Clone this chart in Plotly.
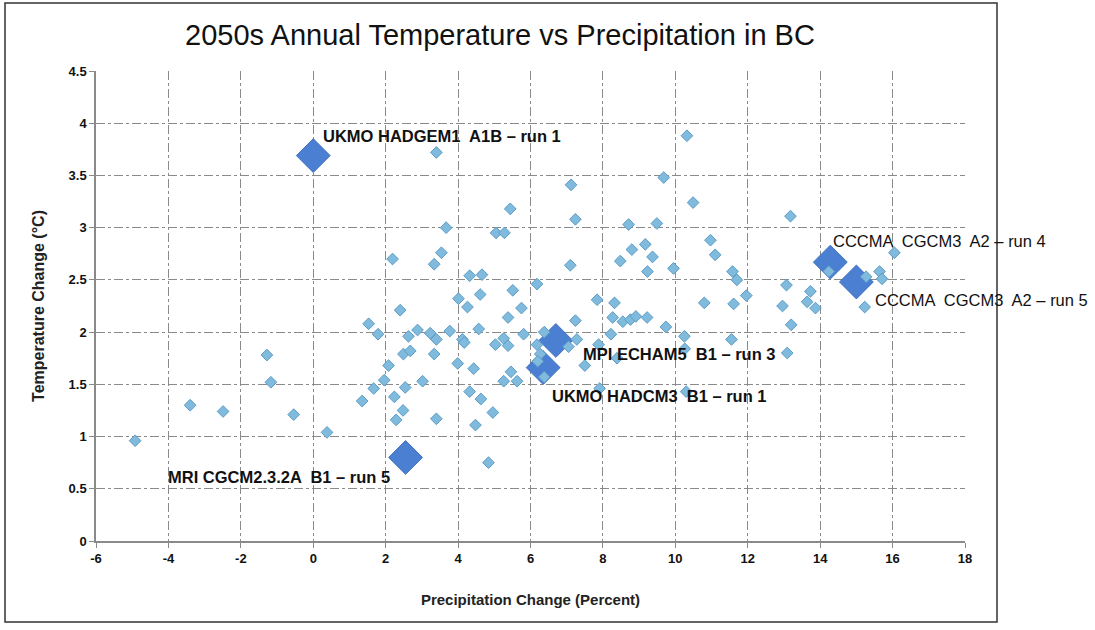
import plotly.graph_objects as go

# ---- data ----
precip_small = [-4.92, -3.40, -2.49, -1.28, -1.17, -0.54, 0.38, 1.35, 1.53, 1.79, 1.67, 1.96, 2.08, 2.24,
                2.29, 2.48, 2.40, 2.63, 2.49, 2.68, 2.54, 2.88, 3.02, 3.23, 3.40, 3.34, 3.40, 5.44, 3.67,
                5.05, 5.28, 2.19, 3.34, 3.54, 4.32, 4.66, 6.18, 4.01, 4.61, 4.26, 5.51, 5.75, 5.38, 3.77,
                4.12, 4.17, 4.57, 5.03, 5.26, 5.38, 5.81, 6.18, 3.99, 4.43, 5.46, 5.26, 5.63, 4.32, 4.63,
                4.96, 4.48, 4.84, 3.40, 10.32, 7.12, 9.68, 10.49, 7.24, 8.71, 9.49, 10.97, 7.10, 8.80,
                9.17, 9.37, 8.48, 9.23, 9.95, 11.10, 11.58, 11.70, 11.96, 10.80, 11.61, 7.84, 8.32, 7.24,
                8.27, 8.55, 8.76, 8.91, 9.22, 9.74, 10.25, 11.55, 8.22, 7.88, 7.28, 7.05, 7.50, 7.91,
                8.39, 10.30, 6.38, 6.27, 6.20, 6.38, 10.26, 13.18, 13.07, 13.73, 12.96, 13.64, 13.87,
                13.20, 13.09, 14.24, 15.27, 15.64, 15.71, 16.05, 15.23]
temp_small = [0.96, 1.30, 1.24, 1.78, 1.52, 1.21, 1.04, 1.34, 2.08, 1.98, 1.46, 1.54, 1.68, 1.38,
              1.16, 1.25, 2.21, 1.96, 1.79, 1.82, 1.47, 2.02, 1.53, 1.99, 1.93, 1.79, 1.17, 3.18, 3.00,
              2.95, 2.95, 2.70, 2.65, 2.76, 2.54, 2.55, 2.46, 2.32, 2.36, 2.24, 2.40, 2.23, 2.14, 2.01,
              1.93, 1.90, 2.03, 1.88, 1.94, 1.87, 1.98, 1.88, 1.70, 1.65, 1.62, 1.53, 1.53, 1.43, 1.36,
              1.23, 1.11, 0.75, 3.72, 3.88, 3.41, 3.48, 3.24, 3.08, 3.03, 3.04, 2.88, 2.64, 2.79,
              2.84, 2.72, 2.68, 2.58, 2.61, 2.74, 2.58, 2.50, 2.35, 2.28, 2.27, 2.31, 2.28, 2.11,
              2.14, 2.10, 2.12, 2.15, 2.14, 2.05, 1.96, 1.93, 1.98, 1.88, 1.93, 1.86, 1.68, 1.46,
              1.75, 1.43, 2.00, 1.79, 1.72, 1.57, 1.84, 3.11, 2.45, 2.39, 2.25, 2.29, 2.23,
              2.07, 1.80, 2.58, 2.53, 2.58, 2.51, 2.76, 2.24]

model_names = ["UKMO HADGEM1  A1B \u2013 run 1", "MRI CGCM2.3.2A  B1 \u2013 run 5",
               "MPI ECHAM5  B1 \u2013 run 3", "UKMO HADCM3  B1 \u2013 run 1",
               "CCCMA  CGCM3  A2 \u2013 run 4", "CCCMA  CGCM3  A2 \u2013 run 5"]
precip_big = [0.0, 2.55, 6.7, 6.35, 14.28, 15.0]
temp_big = [3.69, 0.80, 1.92, 1.66, 2.67, 2.48]

x_tick_vals = [-6, -4, -2, 0, 2, 4, 6, 8, 10, 12, 14, 16, 18]
x_tick_text = ["-6", "-4", "-2", "0", "2", "4", "6", "8", "10", "12", "14", "16", "18"]
y_tick_vals = [0, 0.5, 1, 1.5, 2, 2.5, 3, 3.5, 4, 4.5]
y_tick_text = ["0", "0.5", "1", "1.5", "2", "2.5", "3", "3.5", "4", "4.5"]

# label placement (pixel offsets from the marker), styling only
label_style = [
    dict(xanchor="left", xshift=8, yshift=20, bold=True),
    dict(xanchor="right", xshift=-14, yshift=-20, bold=True),
    dict(xanchor="left", xshift=25, yshift=-14, bold=True),
    dict(xanchor="left", xshift=7, yshift=-28, bold=True),
    dict(xanchor="left", xshift=1, yshift=21, bold=False),
    dict(xanchor="left", xshift=17, yshift=-18, bold=False),
]

fig = go.Figure()
fig.add_trace(go.Scatter(
    x=precip_big, y=temp_big, mode="markers",
    marker=dict(symbol="diamond", size=26, color="#4B7FD2", line=dict(color="#3F6FBF", width=1)),
    hoverinfo="skip", showlegend=False, cliponaxis=False))
fig.add_trace(go.Scatter(
    x=precip_small, y=temp_small, mode="markers",
    marker=dict(symbol="diamond", size=9, color="#80BADC", line=dict(color="#5B9CC6", width=1)),
    hoverinfo="skip", showlegend=False))

for name, px, ty, st in zip(model_names, precip_big, temp_big, label_style):
    txt = f"<b>{name}</b>" if st["bold"] else name
    fig.add_annotation(x=px, y=ty, xref="x", yref="y", text=txt, showarrow=False,
                       xanchor=st["xanchor"], yanchor="middle", xshift=st["xshift"], yshift=st["yshift"],
                       font=dict(family="Liberation Sans, Arial", size=16.5, color="#111"))

L, R, T, B = 96, 130, 71, 89
W, H = 1095, 630
pw, ph = W - L - R, H - T - B
# outer frame
fig.add_shape(type="rect", xref="paper", yref="paper",
              x0=(5 - L) / pw, x1=(997 - L) / pw, y0=-(622 - (H - B)) / ph, y1=(H - B - 3) / ph,
              line=dict(color="#333", width=1.5), fillcolor="rgba(0,0,0,0)", layer="below")

fig.update_layout(
    width=W, height=H, margin=dict(l=L, r=R, t=T, b=B),
    paper_bgcolor="white", plot_bgcolor="white",
    title=dict(text="2050s Annual Temperature vs Precipitation in BC", x=(500 - L) / pw, xref="paper",
               xanchor="center", y=1 - 35 / H, yanchor="middle",
               font=dict(family="Liberation Sans, Arial", size=29, color="#111")),
    font=dict(family="Liberation Sans, Arial", color="#111"),
)
fig.update_xaxes(range=[-6, 18], tickvals=x_tick_vals, ticktext=x_tick_text,
                 showgrid=True, gridcolor="#8a8a8a", griddash="dashdot", gridwidth=1,
                 showline=True, linecolor="#8a8a8a", linewidth=1.5, zeroline=False,
                 ticks="outside", ticklen=5, tickcolor="#8a8a8a",
                 tickfont=dict(size=13, family="Liberation Sans, Arial", color="#111", weight="bold"),
                 title=dict(text="<b>Precipitation Change (Percent)</b>", standoff=29,
                            font=dict(size=15, family="Liberation Sans, Arial", color="#222")))
fig.update_yaxes(range=[0, 4.5], tickvals=y_tick_vals, ticktext=y_tick_text,
                 showgrid=True, gridcolor="#8a8a8a", griddash="dashdot", gridwidth=1,
                 showline=True, linecolor="#8a8a8a", linewidth=1.5, zeroline=False,
                 ticks="outside", ticklen=5, tickcolor="#8a8a8a",
                 tickfont=dict(size=13, family="Liberation Sans, Arial", color="#111", weight="bold"),
                 title=dict(text="<b>Temperature Change (°C)</b>", standoff=20,
                            font=dict(size=16, family="Liberation Sans, Arial", color="#222")))

fig.write_html("out.html", config={"displayModeBar": False},
               post_script="document.body.style.margin='0';")
